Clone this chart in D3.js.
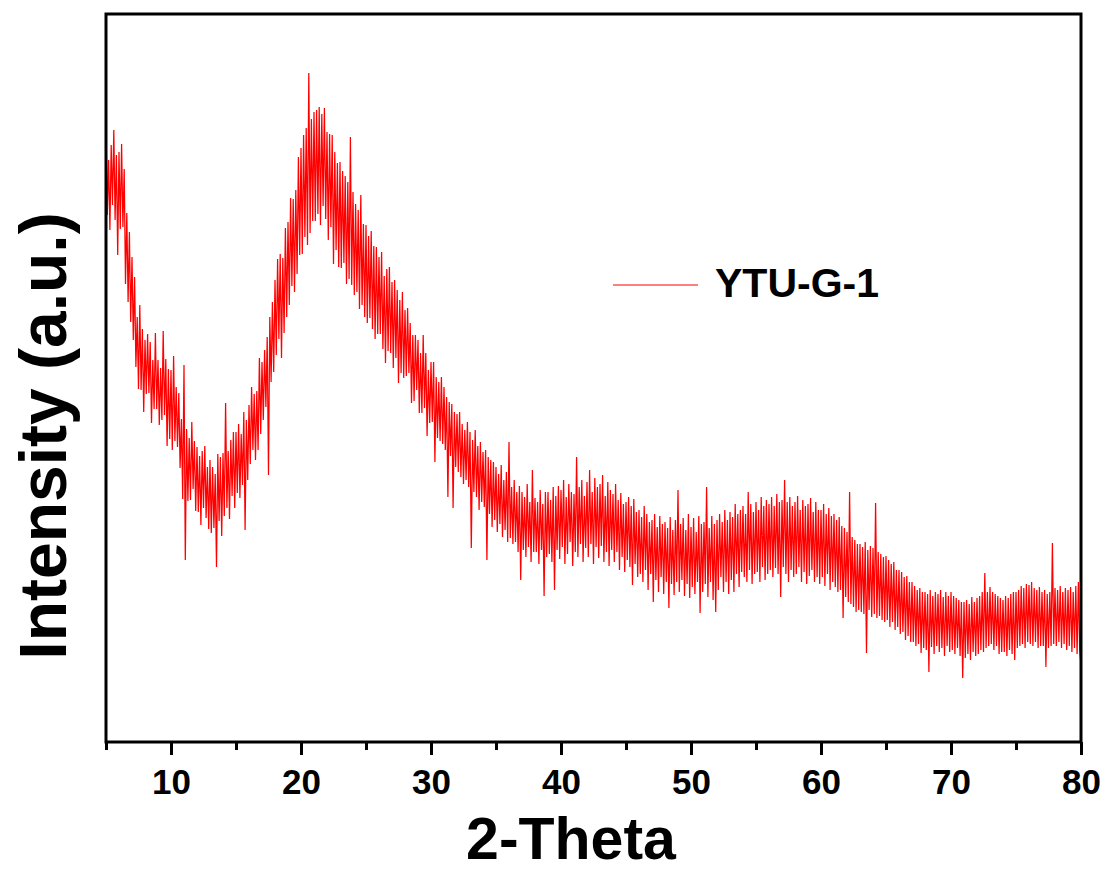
<!DOCTYPE html>
<html>
<head>
<meta charset="utf-8">
<script src="https://cdn.jsdelivr.net/npm/d3@7"></script>
<style>
  html, body { margin: 0; padding: 0; background: #ffffff; }
  svg { display: block; }
  text { font-family: "Liberation Sans", Arial, sans-serif; font-weight: bold; fill: #000; }
</style>
</head>
<body>
<svg id="chart" width="1109" height="872"></svg>
<script>
// ---------------- data ----------------
const seriesName = "YTU-G-1";
const xStart = 5;          // first 2-Theta value
const xStep = 0.1;         // sampling step of the listed intensities
// Intensity (a.u.), one value per 0.1 degree from 5.0 to 80.0 (one row per degree)
const intensity = [
  617,527,582,512,597,537,612,522,587,487, // 5
  590,513,598,515,573,458,529,440,510,420, // 6
  485,402,465,375,425,353,437,352,413,330, // 7
  402,348,408,349,400,319,382,333,409,333, // 8
  382,317,374,322,411,327,383,296,373,303, // 9
  372,292,386,301,355,295,349,274,323,243, // 10
  377,182,313,241,304,242,320,253,301,231, // 11
  295,230,286,217,291,234,296,224,275,213, // 12
  282,209,275,214,268,175,288,221,285,206, // 13
  289,226,339,234,291,223,302,246,310,234, // 14
  310,249,318,244,308,257,330,212,322,262, // 15
  337,278,355,292,348,282,351,292,384,308, // 16
  380,322,392,335,405,267,425,360,440,370, // 17
  462,387,483,403,488,384,484,409,514,425, // 18
  520,437,544,456,543,450,552,468,585,487, // 19
  594,488,607,505,614,497,669,509,623,521, // 20
  630,521,632,528,635,517,628,536,634,523, // 21
  610,502,608,515,607,478,590,492,579,475, // 22
  580,474,571,479,566,458,560,463,605,457, // 23
  550,447,538,450,532,433,547,437,518,425, // 24
  517,419,506,424,511,413,496,403,495,408, // 25
  485,408,490,393,466,379,473,391,475,389, // 26
  460,374,462,384,452,359,442,369,450,364, // 27
  432,366,434,369,419,339,407,341,407,352, // 28
  402,329,389,329,407,334,389,306,372,319, // 29
  380,320,380,280,365,304,360,301,365,298, // 30
  355,292,345,245,340,286,338,234,330,275, // 31
  328,270,330,265,318,258,312,262,320,255, // 32
  310,194,302,250,312,245,296,232,300,240, // 33
  290,235,292,182,285,228,282,215,280,222, // 34
  275,210,268,218,277,205,262,212,270,200, // 35
  300,204,255,198,262,200,250,190,256,162, // 36
  250,192,245,185,258,195,240,180,272,190, // 37
  244,190,240,178,252,192,238,146,250,185, // 38
  250,188,242,180,255,152,246,192,256,183, // 39
  252,195,262,178,245,188,258,200,250,176, // 40
  248,190,285,185,255,198,262,180,246,194, // 41
  260,185,272,198,250,178,264,195,255,184, // 42
  258,196,267,180,246,190,260,176,252,192, // 43
  248,180,258,190,242,172,249,185,238,170, // 44
  240,182,245,175,236,157,243,178,230,165, // 45
  232,168,225,160,236,172,228,152,220,168, // 46
  222,140,228,162,215,150,226,165,218,148, // 47
  220,160,214,134,225,158,212,147,222,160, // 48
  252,150,218,162,224,146,212,158,228,144, // 49
  215,155,224,148,210,160,226,129,218,150, // 50
  220,158,255,145,214,160,226,142,218,130, // 51
  222,152,228,165,220,150,232,160,222,148, // 52
  230,162,225,150,238,168,228,155,232,170, // 53
  236,165,228,160,250,172,238,158,230,168, // 54
  240,170,232,160,245,175,236,162,242,168, // 55
  238,172,245,165,236,174,248,168,240,145, // 56
  242,175,262,168,240,160,245,172,236,165, // 57
  240,168,246,175,232,160,242,170,236,158, // 58
  238,166,244,172,230,160,240,165,232,158, // 59
  232,165,238,156,228,168,234,152,226,160, // 60
  228,155,222,150,225,152,216,124,214,145, // 61
  210,140,250,138,205,135,202,130,198,132, // 62
  198,130,195,128,200,89,192,132,196,125,  // 63
  194,128,239,124,190,126,188,122,185,120, // 64
  186,122,182,115,178,120,180,112,172,115, // 65
  172,108,170,110,165,102,166,106,160,100, // 66
  160,100,156,96,152,98,154,89,150,94,     // 67
  150,92,148,70,152,95,146,88,150,96,      // 68
  148,90,152,94,145,86,150,96,146,90,      // 69
  150,92,146,88,144,94,142,86,140,64,      // 70
  140,84,142,88,138,82,145,90,140,86,      // 71
  144,88,146,92,150,90,169,94,150,96,      // 72
  155,98,150,92,148,96,146,88,144,90,      // 73
  142,90,146,86,144,92,148,88,150,82,      // 74
  150,94,152,96,156,98,154,94,158,100,     // 75
  157,98,160,96,154,100,152,94,155,96,     // 76
  150,96,152,75,148,94,150,96,199,98,      // 77
  154,96,152,100,156,94,150,98,154,92,     // 78
  152,96,155,90,150,94,156,88,160,92,      // 79
  77                                       // 80
];
const xTicks = [10, 20, 30, 40, 50, 60, 70, 80];
const xMinorTicks = [5, 15, 25, 35, 45, 55, 65, 75];
const xDomain = [5, 80];
const yDomain = [0, 728];
const xTitle = "2-Theta";
const yTitle = "Intensity (a.u.)";

const points = intensity.map((v, i) => ({ x: +(xStart + i * xStep).toFixed(2), y: v }));

// ---------------- layout ----------------
const svg = d3.select("#chart");
const L = 106, R = 1081, T = 14, B = 742;

const x = d3.scaleLinear().domain(xDomain).range([L, R]);
const y = d3.scaleLinear().domain(yDomain).range([B, T]);

// data line
const line = d3.line().x(d => x(d.x)).y(d => y(d.y));
svg.append("path")
  .datum(points)
  .attr("fill", "none")
  .attr("stroke", "#ff0000")
  .attr("stroke-width", 1.25)
  .attr("stroke-linejoin", "bevel")
  .attr("d", line);

// minor ticks
const minorAxis = d3.axisBottom(x).tickValues(xMinorTicks).tickSize(8).tickFormat("");
const gMinor = svg.append("g").attr("transform", `translate(0,${B})`).call(minorAxis);
gMinor.select(".domain").remove();
gMinor.selectAll("line").attr("stroke", "#000").attr("stroke-width", 3);

// major ticks
const majorAxis = d3.axisBottom(x).tickValues(xTicks).tickSize(13).tickPadding(14).tickFormat(d3.format("d"));
const gMajor = svg.append("g").attr("transform", `translate(0,${B})`).call(majorAxis);
gMajor.select(".domain").remove();
gMajor.selectAll("line").attr("stroke", "#000").attr("stroke-width", 3);
gMajor.selectAll("text")
  .attr("font-family", '"Liberation Sans", Arial, sans-serif')
  .attr("font-weight", "bold")
  .attr("font-size", 35)
  .attr("fill", "#000");

// frame
svg.append("rect")
  .attr("x", L).attr("y", T)
  .attr("width", R - L).attr("height", B - T)
  .attr("fill", "none")
  .attr("stroke", "#000")
  .attr("stroke-width", 3);

// axis titles
svg.append("text")
  .attr("x", 571).attr("y", 859)
  .attr("text-anchor", "middle")
  .attr("font-size", 59)
  .text(xTitle);

svg.append("text")
  .attr("transform", "translate(66,436) rotate(-90)")
  .attr("text-anchor", "middle")
  .attr("font-size", 66)
  .text(yTitle);

// legend
svg.append("line")
  .attr("x1", 613).attr("x2", 698)
  .attr("y1", 285).attr("y2", 285)
  .attr("stroke", "#ff0000")
  .attr("stroke-width", 1);
svg.append("text")
  .attr("x", 715).attr("y", 297)
  .attr("font-size", 41)
  .text(seriesName);
</script>
</body>
</html>
